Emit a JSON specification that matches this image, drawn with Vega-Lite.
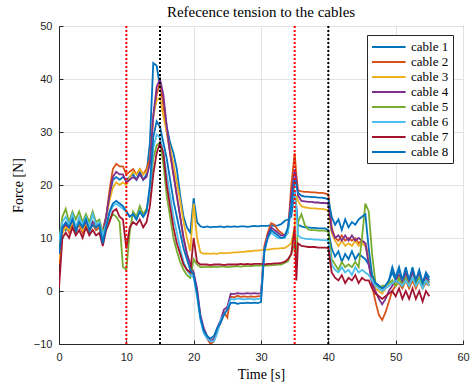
{
"$schema": "https://vega.github.io/schema/vega-lite/v6.json",
"width": 404, "height": 318,
"autosize": {"type": "none"},
"padding": {"left": 59, "top": 26, "right": 7, "bottom": 42},
"background": "white",
"config": {"view": {"stroke": "#262626", "strokeWidth": 1}},
"title": {"text": "Refecence tension to the cables", "font": "Liberation Serif", "fontSize": 15, "fontWeight": "normal", "color": "#000000", "offset": 0, "anchor": "middle"},
"layer": [
{
"data": {"values": [
{"t":0,"c1":8,"c2":5,"c3":6,"c4":7,"c5":9,"c6":9.5,"c7":0.5,"c8":7},
{"t":0.5,"c1":12,"c2":11,"c3":11,"c4":12,"c5":14,"c6":13,"c7":10,"c8":12},
{"t":1,"c1":11.5,"c2":12.5,"c3":12,"c4":12.5,"c5":15.5,"c6":14,"c7":11,"c8":13},
{"t":1.5,"c1":13,"c2":11,"c3":11.5,"c4":12,"c5":13,"c6":12.5,"c7":10,"c8":12},
{"t":2,"c1":12,"c2":13,"c3":13,"c4":13.5,"c5":15,"c6":14.5,"c7":12,"c8":13.5},
{"t":2.5,"c1":11,"c2":11.5,"c3":12,"c4":12,"c5":13.5,"c6":12,"c7":10.5,"c8":11.5},
{"t":3,"c1":13,"c2":12.5,"c3":13,"c4":13,"c5":15,"c6":14,"c7":11.5,"c8":13},
{"t":3.5,"c1":11.5,"c2":11,"c3":11.5,"c4":12,"c5":13,"c6":12.5,"c7":10,"c8":12},
{"t":4,"c1":12.5,"c2":13,"c3":12.5,"c4":13,"c5":14.5,"c6":14,"c7":12,"c8":13.5},
{"t":4.5,"c1":11,"c2":11.5,"c3":11.5,"c4":12,"c5":13,"c6":12,"c7":10.5,"c8":11.5},
{"t":5,"c1":13,"c2":12.5,"c3":13,"c4":13,"c5":15,"c6":14.5,"c7":11.5,"c8":12.5},
{"t":5.5,"c1":11.5,"c2":11.5,"c3":12,"c4":12.5,"c5":13,"c6":12.5,"c7":10.5,"c8":12},
{"t":6,"c1":12,"c2":12,"c3":12.5,"c4":12.5,"c5":13.5,"c6":13,"c7":11,"c8":12.5},
{"t":6.5,"c1":10,"c2":11.5,"c3":11,"c4":11,"c5":11,"c6":10.5,"c7":8.5,"c8":9},
{"t":7,"c1":14,"c2":14,"c3":14,"c4":14,"c5":12.5,"c6":12.5,"c7":11.5,"c8":12},
{"t":7.5,"c1":18,"c2":19,"c3":17,"c4":18,"c5":13.5,"c6":14.5,"c7":13,"c8":15},
{"t":8,"c1":21,"c2":23,"c3":19.5,"c4":21.5,"c5":14.5,"c6":16,"c7":15,"c8":16.5},
{"t":8.5,"c1":21.5,"c2":24,"c3":20.5,"c4":22.5,"c5":14,"c6":16.5,"c7":15.5,"c8":17},
{"t":9,"c1":21,"c2":23.5,"c3":20,"c4":22,"c5":13,"c6":16,"c7":14,"c8":16.5},
{"t":9.5,"c1":21.5,"c2":23.5,"c3":20.5,"c4":22,"c5":4.5,"c6":15.5,"c7":13.5,"c8":16},
{"t":10,"c1":21,"c2":22,"c3":20,"c4":20.5,"c5":4,"c6":15,"c7":8,"c8":15},
{"t":10.5,"c1":21.5,"c2":22.5,"c3":21.5,"c4":21,"c5":11,"c6":14,"c7":12,"c8":14},
{"t":11,"c1":22,"c2":23,"c3":22.5,"c4":21.5,"c5":15,"c6":14.5,"c7":13,"c8":14.5},
{"t":11.5,"c1":21,"c2":22,"c3":22,"c4":21,"c5":14,"c6":13.5,"c7":12.5,"c8":13.5},
{"t":12,"c1":22.5,"c2":23,"c3":23,"c4":22,"c5":16,"c6":15,"c7":13.5,"c8":15},
{"t":12.5,"c1":21,"c2":22,"c3":22,"c4":21,"c5":14.5,"c6":14,"c7":12,"c8":14},
{"t":13,"c1":22,"c2":23,"c3":22.5,"c4":21.5,"c5":15.5,"c6":15,"c7":13,"c8":15},
{"t":13.5,"c1":28,"c2":25,"c3":24,"c4":24,"c5":18,"c6":19,"c7":16,"c8":20},
{"t":14,"c1":43,"c2":33,"c3":33,"c4":33,"c5":25,"c6":27,"c7":22,"c8":29},
{"t":14.5,"c1":42.5,"c2":37,"c3":36,"c4":38.5,"c5":27.5,"c6":29.5,"c7":26,"c8":32},
{"t":15,"c1":38.5,"c2":39.5,"c3":36.5,"c4":40,"c5":28,"c6":29,"c7":28,"c8":31},
{"t":15.5,"c1":36,"c2":35,"c3":33,"c4":37,"c5":24,"c6":26,"c7":26,"c8":28},
{"t":16,"c1":31,"c2":30,"c3":30,"c4":31,"c5":18,"c6":22,"c7":20,"c8":25},
{"t":16.5,"c1":28,"c2":26,"c3":27,"c4":26,"c5":14,"c6":18,"c7":16,"c8":21},
{"t":17,"c1":26,"c2":22,"c3":24,"c4":22,"c5":10,"c6":14,"c7":12,"c8":17},
{"t":17.5,"c1":23,"c2":18,"c3":20.5,"c4":18,"c5":7.5,"c6":11,"c7":9,"c8":14},
{"t":18,"c1":18,"c2":14,"c3":17,"c4":14,"c5":5.5,"c6":8,"c7":7,"c8":11},
{"t":18.5,"c1":14,"c2":10,"c3":13,"c4":10,"c5":4,"c6":5.5,"c7":5,"c8":8},
{"t":19,"c1":12,"c2":7,"c3":10,"c4":7,"c5":3,"c6":4,"c7":4,"c8":6},
{"t":19.5,"c1":11,"c2":5,"c3":7.5,"c4":5,"c5":2.5,"c6":3,"c7":3.5,"c8":4},
{"t":20,"c1":17.5,"c2":3,"c3":16.5,"c4":3.5,"c5":6,"c6":2.5,"c7":10,"c8":3},
{"t":20.5,"c1":13,"c2":0,"c3":10,"c4":0.5,"c5":5,"c6":-1,"c7":5.5,"c8":-0.5},
{"t":21,"c1":12.2,"c2":-5,"c3":7.3,"c4":-4.5,"c5":4.5,"c6":-5.5,"c7":5,"c8":-5},
{"t":21.5,"c1":12,"c2":-7.5,"c3":7,"c4":-7,"c5":4.5,"c6":-8,"c7":5,"c8":-7.5},
{"t":22,"c1":12.2,"c2":-9,"c3":7.1,"c4":-8.5,"c5":4.6,"c6":-9,"c7":5,"c8":-8.5},
{"t":22.5,"c1":12,"c2":-10,"c3":7,"c4":-9.5,"c5":4.5,"c6":-9.5,"c7":4.9,"c8":-9},
{"t":23,"c1":12.1,"c2":-9.5,"c3":7.1,"c4":-9,"c5":4.6,"c6":-9.5,"c7":5,"c8":-8.5},
{"t":23.5,"c1":12.1,"c2":-7.5,"c3":7,"c4":-7,"c5":4.5,"c6":-8,"c7":5,"c8":-7},
{"t":24,"c1":12.2,"c2":-6,"c3":7.2,"c4":-5.5,"c5":4.6,"c6":-5.5,"c7":5,"c8":-6},
{"t":24.5,"c1":12,"c2":-4,"c3":7.1,"c4":-3.5,"c5":4.6,"c6":-4.5,"c7":4.9,"c8":-4.5},
{"t":25,"c1":12.2,"c2":-5,"c3":7.2,"c4":-3,"c5":4.5,"c6":-3.5,"c7":5,"c8":-3.5},
{"t":25.5,"c1":12.1,"c2":-1,"c3":7.2,"c4":-0.5,"c5":4.6,"c6":-1.5,"c7":5,"c8":-2.3},
{"t":26,"c1":12.2,"c2":-1.2,"c3":7.3,"c4":-0.6,"c5":4.6,"c6":-1.6,"c7":5,"c8":-2.2},
{"t":26.5,"c1":12.1,"c2":-0.9,"c3":7.3,"c4":-0.4,"c5":4.7,"c6":-1.4,"c7":5,"c8":-2.4},
{"t":27,"c1":12.2,"c2":-1.1,"c3":7.4,"c4":-0.5,"c5":4.6,"c6":-1.5,"c7":5.1,"c8":-2.3},
{"t":27.5,"c1":12.2,"c2":-1,"c3":7.4,"c4":-0.5,"c5":4.7,"c6":-1.6,"c7":5,"c8":-2.3},
{"t":28,"c1":12.1,"c2":-1.1,"c3":7.5,"c4":-0.4,"c5":4.7,"c6":-1.5,"c7":5.1,"c8":-2.2},
{"t":28.5,"c1":12.2,"c2":-1,"c3":7.5,"c4":-0.5,"c5":4.7,"c6":-1.5,"c7":5,"c8":-2.3},
{"t":29,"c1":12.3,"c2":-1.1,"c3":7.6,"c4":-0.4,"c5":4.8,"c6":-1.6,"c7":5.1,"c8":-2.2},
{"t":29.5,"c1":12.2,"c2":-1,"c3":7.6,"c4":-0.5,"c5":4.8,"c6":-1.5,"c7":5.1,"c8":-2.3},
{"t":30,"c1":12.3,"c2":-0.9,"c3":7.7,"c4":-0.4,"c5":4.8,"c6":-1.4,"c7":5.1,"c8":-2.1},
{"t":30.5,"c1":12.3,"c2":8.5,"c3":7.8,"c4":8,"c5":4.8,"c6":7.5,"c7":5,"c8":7.5},
{"t":31,"c1":12.3,"c2":11,"c3":7.8,"c4":10.5,"c5":4.8,"c6":10,"c7":5.1,"c8":10},
{"t":31.5,"c1":12.4,"c2":12.8,"c3":7.9,"c4":12,"c5":4.9,"c6":11,"c7":5.1,"c8":11.5},
{"t":32,"c1":12.3,"c2":12.5,"c3":8,"c4":11.5,"c5":4.9,"c6":10.5,"c7":5.2,"c8":11},
{"t":32.5,"c1":12.4,"c2":11.5,"c3":8,"c4":11,"c5":5,"c6":10,"c7":5.2,"c8":10.5},
{"t":33,"c1":12.6,"c2":11,"c3":8.1,"c4":10.5,"c5":5,"c6":10,"c7":5.3,"c8":10},
{"t":33.5,"c1":13.2,"c2":10.5,"c3":8.1,"c4":10.5,"c5":5.3,"c6":10,"c7":5.5,"c8":10.2},
{"t":34,"c1":13.5,"c2":11,"c3":8.5,"c4":11.5,"c5":5.6,"c6":11,"c7":6,"c8":12},
{"t":34.5,"c1":14,"c2":20,"c3":9,"c4":18,"c5":7,"c6":16,"c7":7,"c8":16},
{"t":35,"c1":19,"c2":26,"c3":12,"c4":23,"c5":9,"c6":19,"c7":12,"c8":21},
{"t":35.25,"c1":16,"c2":22,"c3":18,"c4":21,"c5":6,"c6":15,"c7":2,"c8":20},
{"t":35.5,"c1":12.5,"c2":19,"c3":17,"c4":18,"c5":13,"c6":10.5,"c7":9,"c8":18.5},
{"t":36,"c1":12.2,"c2":18.8,"c3":16,"c4":17,"c5":14.5,"c6":10,"c7":8.5,"c8":18},
{"t":36.5,"c1":12,"c2":18.7,"c3":15.8,"c4":16.9,"c5":12.5,"c6":9.9,"c7":8.4,"c8":17.8},
{"t":37,"c1":12,"c2":18.7,"c3":15.7,"c4":16.8,"c5":11.6,"c6":9.8,"c7":8.3,"c8":17.8},
{"t":37.5,"c1":11.9,"c2":18.6,"c3":15.6,"c4":16.8,"c5":11.5,"c6":9.8,"c7":8.3,"c8":17.7},
{"t":38,"c1":11.9,"c2":18.6,"c3":15.6,"c4":16.7,"c5":11.5,"c6":9.7,"c7":8.3,"c8":17.7},
{"t":38.5,"c1":11.8,"c2":18.5,"c3":15.5,"c4":16.7,"c5":11.4,"c6":9.7,"c7":8.2,"c8":17.6},
{"t":39,"c1":11.8,"c2":18.5,"c3":15.5,"c4":16.6,"c5":11.4,"c6":9.6,"c7":8.2,"c8":17.6},
{"t":39.5,"c1":11.8,"c2":18.4,"c3":15.4,"c4":16.6,"c5":11.4,"c6":9.6,"c7":8.2,"c8":17.5},
{"t":40,"c1":11.5,"c2":18.2,"c3":15.2,"c4":16.5,"c5":11.2,"c6":9.5,"c7":8.1,"c8":17.3},
{"t":40.5,"c1":8,"c2":12,"c3":11,"c4":11.5,"c5":6,"c6":5,"c7":3.5,"c8":14},
{"t":41,"c1":6.5,"c2":10,"c3":9.5,"c4":10,"c5":5,"c6":4,"c7":2.5,"c8":12.5},
{"t":41.5,"c1":7.5,"c2":9.5,"c3":8.5,"c4":10.5,"c5":4,"c6":3.5,"c7":2,"c8":13.5},
{"t":42,"c1":5.5,"c2":10.5,"c3":9.5,"c4":9.5,"c5":5.5,"c6":4.5,"c7":3,"c8":11.5},
{"t":42.5,"c1":7,"c2":9.5,"c3":8.5,"c4":10.5,"c5":4.5,"c6":3.5,"c7":1.5,"c8":13.5},
{"t":43,"c1":6,"c2":10,"c3":9,"c4":9.5,"c5":5,"c6":4,"c7":2.5,"c8":12},
{"t":43.5,"c1":7.5,"c2":9.5,"c3":8.5,"c4":10.5,"c5":4.5,"c6":3,"c7":2,"c8":13},
{"t":44,"c1":6,"c2":10,"c3":9.5,"c4":9.5,"c5":5.5,"c6":4.5,"c7":3,"c8":12.5},
{"t":44.5,"c1":7,"c2":9,"c3":8.5,"c4":10,"c5":4.5,"c6":3.5,"c7":1.5,"c8":13.5},
{"t":45,"c1":6.5,"c2":9.5,"c3":9,"c4":9.5,"c5":10,"c6":4,"c7":2.5,"c8":14},
{"t":45.5,"c1":6,"c2":9,"c3":8.5,"c4":9,"c5":16.5,"c6":3.5,"c7":2,"c8":14.5},
{"t":46,"c1":5,"c2":6,"c3":6,"c4":5,"c5":15,"c6":3,"c7":2,"c8":8},
{"t":46.5,"c1":3,"c2":1,"c3":2,"c4":1.5,"c5":7,"c6":2,"c7":0.5,"c8":3},
{"t":47,"c1":1.5,"c2":-2,"c3":0.5,"c4":0,"c5":1.5,"c6":1,"c7":-0.5,"c8":1.5},
{"t":47.5,"c1":1,"c2":-4.5,"c3":0,"c4":-1.5,"c5":0.5,"c6":0.5,"c7":-1,"c8":1},
{"t":48,"c1":0.5,"c2":-5.5,"c3":-0.5,"c4":-2.5,"c5":1,"c6":0,"c7":-1.5,"c8":0.5},
{"t":48.5,"c1":1,"c2":-4,"c3":0.5,"c4":-1.5,"c5":1,"c6":0.5,"c7":-1,"c8":1},
{"t":49,"c1":2,"c2":-2,"c3":1,"c4":0,"c5":1.5,"c6":1,"c7":-0.5,"c8":2},
{"t":49.5,"c1":3.5,"c2":0,"c3":2,"c4":1,"c5":2,"c6":1.5,"c7":0,"c8":4.5},
{"t":50,"c1":2,"c2":1,"c3":1,"c4":2,"c5":1,"c6":2,"c7":-1,"c8":2.5},
{"t":50.5,"c1":4,"c2":1.5,"c3":2,"c4":3,"c5":2.5,"c6":1.5,"c7":0.5,"c8":4.5},
{"t":51,"c1":2,"c2":0.5,"c3":1,"c4":1.5,"c5":1,"c6":1,"c7":-1.5,"c8":2},
{"t":51.5,"c1":4,"c2":2,"c3":2.5,"c4":3.5,"c5":2.5,"c6":2,"c7":0,"c8":4.5},
{"t":52,"c1":2,"c2":0.5,"c3":1,"c4":1.5,"c5":1,"c6":1,"c7":-1.5,"c8":2},
{"t":52.5,"c1":4,"c2":2,"c3":2.5,"c4":3.5,"c5":2.5,"c6":2.5,"c7":0.5,"c8":4.5},
{"t":53,"c1":2,"c2":0.5,"c3":1,"c4":2,"c5":1.5,"c6":1,"c7":-1.5,"c8":2},
{"t":53.5,"c1":3.5,"c2":2,"c3":2,"c4":3.5,"c5":2.5,"c6":2,"c7":0,"c8":4},
{"t":54,"c1":1.5,"c2":0.5,"c3":0.5,"c4":1.5,"c5":1,"c6":0.5,"c7":-2,"c8":1.5},
{"t":54.5,"c1":3,"c2":1.5,"c3":2,"c4":2.5,"c5":2,"c6":2,"c7":0,"c8":3.5},
{"t":55,"c1":2,"c2":1,"c3":1,"c4":1.5,"c5":1.5,"c6":1,"c7":-1,"c8":2.5}
]},
"transform": [{"fold": ["c1","c2","c3","c4","c5","c6","c7","c8"], "as": ["cable","f"]}],
"mark": {"type": "line", "strokeWidth": 1.8, "clip": true},
"encoding": {
"x": {"field": "t", "type": "quantitative", "scale": {"domain": [0, 60], "nice": false},
 "axis": {"values": [0,10,20,30,40,50,60], "title": "Time [s]", "titleFont": "Liberation Serif", "titleFontSize": 14, "titleFontWeight": "normal", "titleColor": "#000000", "titlePadding": 5,
 "labelFont": "Liberation Sans", "labelFontSize": 11, "labelColor": "#262626", "labelPadding": 11, "tickSize": -4, "tickColor": "#262626", "domainColor": "#262626", "gridColor": "#E3E3E3", "labelFlush": false}},
"y": {"field": "f", "type": "quantitative", "scale": {"domain": [-10, 50], "nice": false},
 "axis": {"values": [-10,0,10,20,30,40,50], "title": "Force [N]", "titleFont": "Liberation Serif", "titleFontSize": 14, "titleFontWeight": "normal", "titleColor": "#000000", "titlePadding": 8,
 "labelFont": "Liberation Sans", "labelFontSize": 11, "labelColor": "#262626", "labelPadding": 11, "tickSize": -4, "tickColor": "#262626", "domainColor": "#262626", "gridColor": "#E3E3E3", "labelFlush": false}},
"color": {"field": "cable", "type": "nominal",
 "scale": {"domain": ["c1","c2","c3","c4","c5","c6","c7","c8"], "range": ["#0072BD","#D95319","#EDB120","#7E2F8E","#77AC30","#4DBEEE","#A2142F","#0072BD"]},
 "legend": {"title": null, "orient": "none", "legendX": 308, "legendY": 9, "labelExpr": "replace(datum.label, 'c', 'cable ')",
 "symbolType": "M-1,0H3.8", "symbolSize": 196, "symbolStrokeWidth": 2, "labelFont": "Liberation Serif", "labelFontSize": 13, "labelColor": "#000000",
 "fillColor": "white", "strokeColor": "#262626", "padding": 4, "rowPadding": 0, "labelOffset": 24}}
}
},
{
"data": {"values": [{"t": 10}, {"t": 35}]},
"mark": {"type": "rule", "color": "#FF0000", "strokeWidth": 2, "strokeDash": [2, 2]},
"encoding": {"x": {"field": "t", "type": "quantitative"}}
},
{
"data": {"values": [{"t": 15}, {"t": 40}]},
"mark": {"type": "rule", "color": "#000000", "strokeWidth": 2, "strokeDash": [2, 2]},
"encoding": {"x": {"field": "t", "type": "quantitative"}}
}
]
}
